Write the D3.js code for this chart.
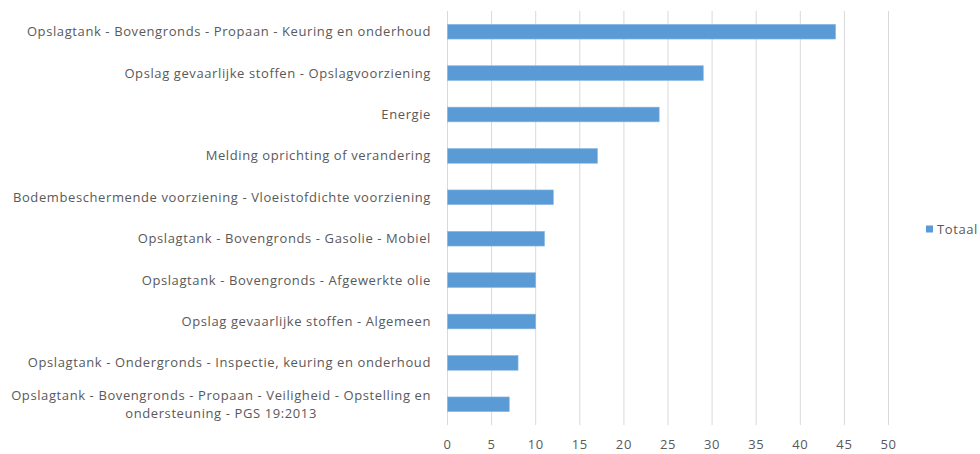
<!DOCTYPE html>
<html>
<head>
<meta charset="utf-8">
<script src="https://cdn.jsdelivr.net/npm/d3@7"></script>
<style>
  body { margin: 0; background: #fff; }
  text { font-family: "Open Sans", sans-serif; fill: #595959; letter-spacing: 0.6px; }
</style>
</head>
<body>
<div id="chart"></div>
<script>
/* DATA */
const categories = [
  "Opslagtank - Bovengronds - Propaan - Keuring en onderhoud",
  "Opslag gevaarlijke stoffen - Opslagvoorziening",
  "Energie",
  "Melding oprichting of verandering",
  "Bodembeschermende voorziening - Vloeistofdichte voorziening",
  "Opslagtank - Bovengronds - Gasolie - Mobiel",
  "Opslagtank - Bovengronds - Afgewerkte olie",
  "Opslag gevaarlijke stoffen - Algemeen",
  "Opslagtank - Ondergronds - Inspectie, keuring en onderhoud",
  "Opslagtank - Bovengronds - Propaan - Veiligheid - Opstelling en ondersteuning - PGS 19:2013"
];
const values = [44, 29, 24, 17, 12, 11, 10, 10, 8, 7];
const xTicks = [0, 5, 10, 15, 20, 25, 30, 35, 40, 45, 50];
const seriesName = "Totaal";

// the long last label is wrapped in two lines like the original
const labelLines = {
  "Opslagtank - Bovengronds - Propaan - Veiligheid - Opstelling en ondersteuning - PGS 19:2013":
    ["Opslagtank - Bovengronds - Propaan - Veiligheid - Opstelling en", "ondersteuning - PGS 19:2013"]
};

const width = 980, height = 454;
const margin = { top: 11, bottom: 29, left: 447, right: 92 };
const fontSize = 13;

const svg = d3.select("#chart").append("svg")
  .attr("width", width)
  .attr("height", height);

const xScale = d3.scaleLinear()
  .domain([0, 50])
  .range([margin.left, width - margin.right]);

const yScale = d3.scaleBand()
  .domain(categories)
  .range([margin.top, height - margin.bottom])
  .paddingInner(0.645)
  .paddingOuter(0.3225);

// gridlines
svg.append("g")
  .selectAll("line")
  .data(xTicks)
  .join("line")
  .attr("x1", d => xScale(d) + 0.5)
  .attr("x2", d => xScale(d) + 0.5)
  .attr("y1", margin.top)
  .attr("y2", height - margin.bottom)
  .attr("stroke", "#d9d9d9")
  .attr("stroke-width", 1);

// x axis labels
const xAxis = d3.axisBottom(xScale).tickValues(xTicks).tickSize(0).tickPadding(15);
svg.append("g")
  .attr("transform", `translate(0,${height - margin.bottom})`)
  .call(xAxis)
  .call(g => g.select(".domain").remove())
  .selectAll("text")
  .attr("font-size", fontSize)
  .attr("font-family", "Open Sans, sans-serif")
  .attr("fill", "#595959");

// bars
svg.append("g")
  .selectAll("rect")
  .data(values)
  .join("rect")
  .attr("x", xScale(0) + 0.5)
  .attr("y", (d, i) => yScale(categories[i]))
  .attr("width", d => xScale(d) - xScale(0))
  .attr("height", yScale.bandwidth())
  .attr("fill", "#5b9bd5")
  .attr("stroke", "#8ab6e2")
  .attr("stroke-width", 0.6);

// category labels
const labels = svg.append("g")
  .selectAll("text")
  .data(categories)
  .join("text")
  .attr("font-size", fontSize)
  .attr("text-anchor", "end")
  .attr("x", 431)
  .attr("y", d => yScale(d) + yScale.bandwidth() / 2)
  .attr("dy", "0.35em");

labels.each(function(d) {
  const t = d3.select(this);
  const lines = labelLines[d];
  if (!lines) { t.text(d); return; }
  t.attr("dy", null).attr("text-anchor", "middle");
  const cy = yScale(d) + yScale.bandwidth() / 2;
  // measure first line to center second line under it
  t.text(lines[0]);
  const w = this.getComputedTextLength();
  t.text(null);
  const cx = 431 - w / 2;
  lines.forEach((ln, i) => {
    t.append("tspan")
      .attr("x", cx)
      .attr("y", cy + (i - 0.5) * 18)
      .attr("dy", "0.35em")
      .text(ln);
  });
});

// legend
const legend = svg.append("g").attr("transform", "translate(926,229)");
legend.append("rect")
  .attr("x", 0).attr("y", -3.5)
  .attr("width", 7).attr("height", 7)
  .attr("fill", "#5b9bd5");
legend.append("text")
  .attr("x", 11)
  .attr("dy", "0.35em")
  .attr("font-size", fontSize)
  .text(seriesName);
</script>
</body>
</html>
